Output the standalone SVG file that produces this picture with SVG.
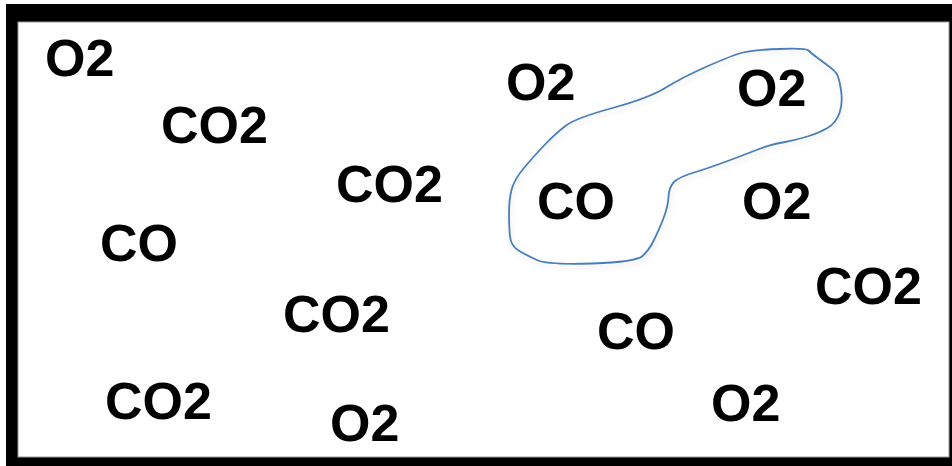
<svg xmlns="http://www.w3.org/2000/svg" width="952" height="466" viewBox="0 0 952 466">
  <style>
    .t { font-family: "Liberation Sans", Arial, sans-serif; font-weight: bold; font-size: 52px; fill: #000; }
    .loop { fill: none; stroke: #4a7ebb; stroke-width: 1.8; stroke-linejoin: round; }
  </style>
  <defs>
    <filter id="shadow" x="-10%" y="-10%" width="120%" height="130%">
      <feGaussianBlur in="SourceAlpha" stdDeviation="3" result="b"/>
      <feOffset in="b" dx="1" dy="3" result="o"/>
      <feComponentTransfer in="o" result="s"><feFuncA type="linear" slope="0.12"/></feComponentTransfer>
      <feMerge><feMergeNode in="s"/><feMergeNode in="SourceGraphic"/></feMerge>
    </filter>
  </defs>
  <rect x="0" y="0" width="952" height="466" fill="#fff"/>
  <g id="frame">
    <rect x="6" y="4" width="946" height="462" fill="#000"/>
    <rect x="18" y="22" width="931" height="435" fill="#fff" stroke="#999" stroke-width="1"/>
  </g>
  <g id="connectors">
    <path class="loop" filter="url(#shadow)" d="M808.5,50.5 Q806,48 779.5,49 Q753,50 743,52.5 Q733,55 708,66 Q683,77 666,87.5 Q649,98 612.5,108 Q576,118 566,125.5 Q556,133 544.5,145 Q533,157 523.5,168.5 Q514,180 511.5,190 Q509,200 509,213.5 Q509,227 510,236.5 Q511,246 518.5,250.5 Q526,255 537,260 Q548,265 592,263.5 Q636,262 642.5,256 Q649,250 653.5,241 Q658,232 663,219.5 Q668,207 668.5,197 Q669,187 674,182 Q679,177 694,172.5 Q709,168 729,160.5 Q749,153 759,149 Q769,145 782.5,142.5 Q796,140 807.5,136.5 Q819,133 827.5,128 Q836,123 839.5,113 Q843,103 841,90 Q839,77 836.5,73.5 Q834,70 828.5,66 Q823,62 817,57.5 Q811,53 808.5,50.5 Z"/>
  </g>
  <g id="n1"><text class="t" x="45" y="76">O2</text></g>
  <g id="n2"><text class="t" x="161" y="143">CO2</text></g>
  <g id="n3"><text class="t" x="336" y="202">CO2</text></g>
  <g id="n4"><text class="t" x="100" y="261">CO</text></g>
  <g id="n5"><text class="t" x="283" y="332">CO2</text></g>
  <g id="n6"><text class="t" x="105" y="419">CO2</text></g>
  <g id="n7"><text class="t" x="330" y="441">O2</text></g>
  <g id="n8"><text class="t" x="506" y="100">O2</text></g>
  <g id="n9"><text class="t" x="737" y="106">O2</text></g>
  <g id="n10"><text class="t" x="537" y="219">CO</text></g>
  <g id="n11"><text class="t" x="742" y="219">O2</text></g>
  <g id="n12"><text class="t" x="815" y="304">CO2</text></g>
  <g id="n13"><text class="t" x="597" y="349">CO</text></g>
  <g id="n14"><text class="t" x="711" y="421">O2</text></g>
</svg>
